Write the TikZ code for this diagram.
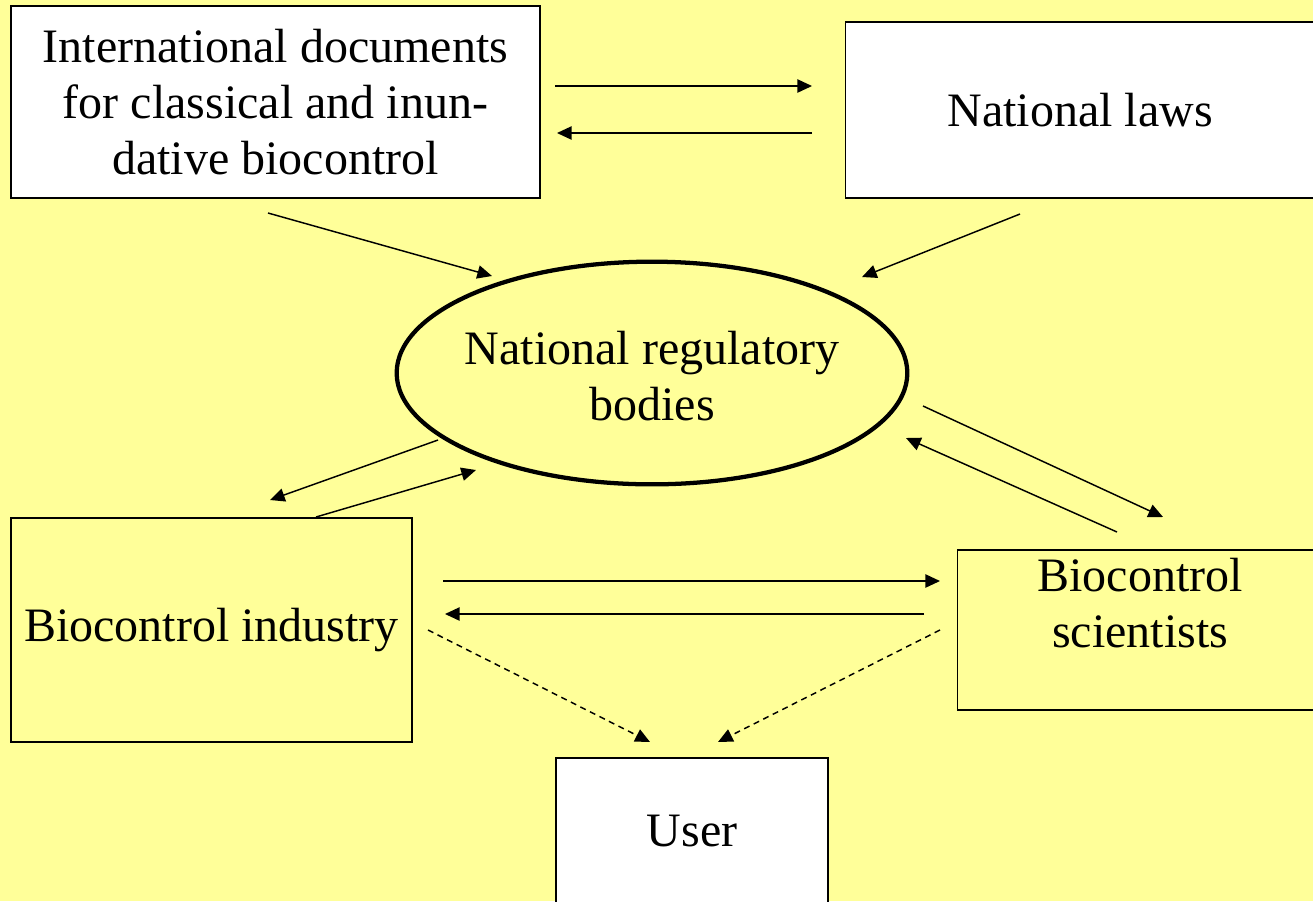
\documentclass[tikz,border=0pt]{standalone}
\usepackage{fontspec}
\setmainfont{Liberation Serif}
\usetikzlibrary{arrows.meta,shapes.geometric}
\definecolor{bgyellow}{HTML}{FFFF99}
\tikzset{
  box/.style={draw=black, line width=1.1pt, rectangle, inner sep=0pt, align=center,
    font=\fontsize{36}{42}\selectfont},
  whitebox/.style={box, fill=white},
  yellowbox/.style={box, fill=bgyellow},
  hub/.style={draw=black, line width=3.2pt, ellipse, inner sep=0pt, fill=bgyellow},
  label/.style={inner sep=0pt, align=center, font=\fontsize{36}{42}\selectfont},
  link/.style={line width=1.1pt, -{Triangle[length=11pt,width=10pt]}},
  dlink/.style={link, dash pattern=on 4.5pt off 3.5pt},
}
\begin{document}
\begin{tikzpicture}[x=0.75pt,y=-0.75pt]
\useasboundingbox (0,0) rectangle (1313,901);
\fill[bgyellow] (0,0) rectangle (1313,901);

\node[whitebox, minimum width=396.75pt, minimum height=144pt] (intl) at (275.5,102)
  {International documents\\for classical and inun-\\dative biocontrol};
\node[whitebox, minimum width=351.75pt, minimum height=132pt] (laws) at (1080,110)
  {National laws};
\node[hub, minimum width=383pt, minimum height=167pt] (reg) at (652,373) {};
\node[label] (regtext) at (652,376) {National regulatory\\bodies};
\node[yellowbox, minimum width=300.75pt, minimum height=168pt] (ind) at (211.5,630)
  {Biocontrol industry};
\node[yellowbox, minimum width=267.75pt, minimum height=120pt] (sci) at (1136,630) {};
\node[label] (scitext) at (1140,603) {Biocontrol\\scientists};
\node[whitebox, minimum width=204pt, minimum height=109.5pt] (user) at (692,831)
  {User};

% connector end points
\coordinate (a1) at (555,86);   \coordinate (a2) at (812,86);
\coordinate (b1) at (812,133);  \coordinate (b2) at (557,133);
\coordinate (c1) at (268,213);  \coordinate (c2) at (492,276);
\coordinate (d1) at (1020,214); \coordinate (d2) at (862,277);
\coordinate (e1) at (438,440);  \coordinate (e2) at (270,500);
\coordinate (f1) at (316,517);  \coordinate (f2) at (476,470);
\coordinate (g1) at (923,406);  \coordinate (g2) at (1163,517);
\coordinate (h1) at (1117,532); \coordinate (h2) at (906,438);
\coordinate (i1) at (443,581);  \coordinate (i2) at (940,581);
\coordinate (j1) at (924,614);  \coordinate (j2) at (445,614);
\coordinate (k1) at (428,630);  \coordinate (k2) at (650,742);
\coordinate (l1) at (940,630);  \coordinate (l2) at (718,742);

\draw[link] (a1) -- (a2);
\draw[link] (b1) -- (b2);
\draw[link] (c1) -- (c2);
\draw[link] (d1) -- (d2);
\draw[link] (e1) -- (e2);
\draw[link] (f1) -- (f2);
\draw[link] (g1) -- (g2);
\draw[link] (h1) -- (h2);
\draw[link] (i1) -- (i2);
\draw[link] (j1) -- (j2);
\draw[dlink] (k1) -- (k2);
\draw[dlink] (l1) -- (l2);
\end{tikzpicture}
\end{document}
